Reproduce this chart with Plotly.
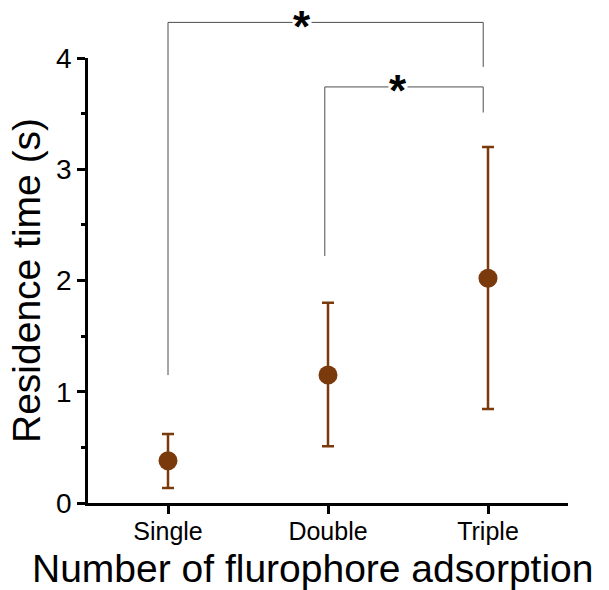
import plotly.graph_objects as go

categories = ["Single", "Double", "Triple"]
x_pos = [0, 1, 2]
means = [0.38, 1.15, 2.02]
upper = [0.62, 1.80, 3.20]
lower = [0.135, 0.51, 0.845]

y_ticks = [0, 1, 2, 3, 4]
YMAX = 4.0

# significance brackets: (x_left, x_right, top, left_bottom, right_bottom, star_x)
brackets = [
    (0.0, 1.97, 4.32, 1.15, 3.92, 0.84),
    (0.98, 1.97, 3.74, 2.22, 3.51, 1.44),
]

BROWN = "#7B3A0C"
FONT = "Liberation Sans, Arial, sans-serif"

err_plus = [u - m for u, m in zip(upper, means)]
err_minus = [m - l for m, l in zip(means, lower)]

fig = go.Figure()
fig.add_trace(go.Scatter(
    x=x_pos, y=means, mode="markers",
    marker=dict(size=19, color=BROWN),
    error_y=dict(type="data", symmetric=False, array=err_plus, arrayminus=err_minus,
                 color=BROWN, thickness=2.5, width=6),
    cliponaxis=False, showlegend=False,
))

shapes = []
annotations = []
for xl, xr, top, lb, rb, sx in brackets:
    line = dict(color="#4d4d4d", width=1)
    shapes.append(dict(type="line", xref="x", yref="paper", x0=xl, x1=xl, y0=lb / YMAX, y1=top / YMAX, line=line))
    shapes.append(dict(type="line", xref="x", yref="paper", x0=xl, x1=xr, y0=top / YMAX, y1=top / YMAX, line=line))
    shapes.append(dict(type="line", xref="x", yref="paper", x0=xr, x1=xr, y0=top / YMAX, y1=rb / YMAX, line=line))
    annotations.append(dict(x=sx, y=top / YMAX, xref="x", yref="paper", text="<b>*</b>", showarrow=False,
                            font=dict(size=44, family=FONT, color="black"),
                            bgcolor="white", borderpad=0, yshift=-4, xanchor="center", yanchor="middle"))

annotations.append(dict(x=0.5, y=0.0, xref="paper", yref="paper", xanchor="center", yanchor="top",
                        yshift=-42, xshift=-16,
                        text="Number of flurophore adsorption", showarrow=False,
                        font=dict(size=39, family=FONT, color="black")))
annotations.append(dict(x=0, y=0.5, xref="paper", yref="paper", xanchor="right", yanchor="middle",
                        xshift=-38, textangle=-90,
                        text="Residence time (s)", showarrow=False,
                        font=dict(size=39, family=FONT, color="black")))

fig.update_layout(
    width=609, height=590,
    margin=dict(l=88, r=41, t=58, b=87),
    plot_bgcolor="white", paper_bgcolor="white",
    shapes=shapes, annotations=annotations,
    xaxis=dict(range=[-0.5, 2.5], tickvals=x_pos, ticktext=categories,
               showline=True, linecolor="black", linewidth=2.5,
               ticks="outside", ticklen=8, tickwidth=2.5, tickcolor="black",
               showgrid=False, zeroline=False, ticklabelstandoff=-4,
               tickfont=dict(size=25, family=FONT, color="black")),
    yaxis=dict(range=[0, YMAX], tickvals=y_ticks,
               showline=True, linecolor="black", linewidth=2.5,
               ticks="outside", ticklen=8, tickwidth=2.5, tickcolor="black",
               minor=dict(dtick=0.5, ticks="outside", ticklen=4, tickwidth=2.5, tickcolor="black"),
               showgrid=False, zeroline=False,
               tickfont=dict(size=28, family=FONT, color="black")),
)

fig.write_html("out.html")
